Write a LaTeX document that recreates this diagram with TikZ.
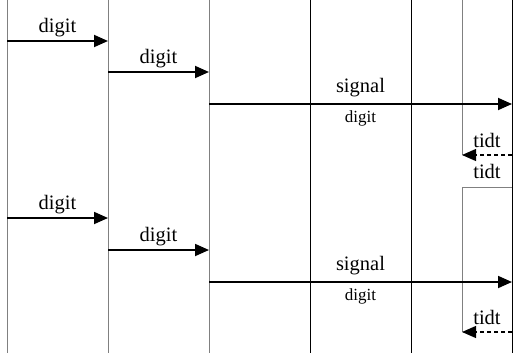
\documentclass[tikz,border=0pt]{standalone}
\usepackage{fontspec}
\setmainfont{Liberation Serif}
\usetikzlibrary{arrows.meta}

\tikzset{
  life/.style={draw=gray, line width=1pt},
  lifedark/.style={draw=black, line width=0.9pt},
  msg/.style={line width=1.8pt, -{Triangle[length=14pt,width=12pt]}},
  reply/.style={line width=1.1pt, dash pattern=on 4pt off 3pt, -{Triangle[length=14pt,width=12pt]}},
  lbl/.style={font=\fontsize{20.5}{24}\selectfont, inner sep=0pt},
  sublbl/.style={font=\fontsize{17}{20}\selectfont, inner sep=0pt},
}

\begin{document}
\begin{tikzpicture}[x=1pt,y=-1pt]
    \useasboundingbox (0,0) rectangle (518,353);
    % lifelines
    \foreach \n/\x in {1/7,2/108,3/209,4/310,5/411,6/462,7/512} {
        \coordinate (l\n) at (\x,0);
        \coordinate (b\n) at (\x,353);
    }
    % message levels
    \coordinate (m1) at (0,41);
    \coordinate (m2) at (0,72);
    \coordinate (m3) at (0,104);
    \coordinate (r1) at (0,155);
    \coordinate (h) at (0,187);
    \coordinate (m4) at (0,218);
    \coordinate (m5) at (0,250);
    \coordinate (m6) at (0,282);
    \coordinate (r2) at (0,332);
    \draw[life] (l1) -- (b1);
    \draw[life] (l2) -- (b2);
    \draw[life] (l3) -- (b3);
    \draw[lifedark] (l4) -- (b4);
    \draw[lifedark] (l5) -- (b5);
    \draw[lifedark] (l7) -- (b7);
    \draw[life] (l6) -- (l6 |- r1);
    \draw[life] (l7 |- h) -- node[lbl, above=8pt] (t2) {tidt} (l6 |- h) -- (l6 |- r2);
    % first round
    \draw[msg] (l1 |- m1) -- node[lbl, above=3pt] (d1) {digit} (l2 |- m1);
    \draw[msg] (l2 |- m2) -- node[lbl, above=3pt] (d2) {digit} (l3 |- m2);
    \draw[msg] (l3 |- m3) -- node[lbl, above=6pt] (s1) {signal}
        node[sublbl, below=6pt] (s1d) {digit} (l7 |- m3);
    \draw[reply] (l7 |- r1) -- node[lbl, above=7pt] (t1) {tidt} (l6 |- r1);
    % second round
    \draw[msg] (l1 |- m4) -- node[lbl, above=3pt] (d4) {digit} (l2 |- m4);
    \draw[msg] (l2 |- m5) -- node[lbl, above=3pt] (d5) {digit} (l3 |- m5);
    \draw[msg] (l3 |- m6) -- node[lbl, above=6pt] (s2) {signal}
        node[sublbl, below=6pt] (s2d) {digit} (l7 |- m6);
    \draw[reply] (l7 |- r2) -- node[lbl, above=7pt] (t3) {tidt} (l6 |- r2);
\end{tikzpicture}
\end{document}
